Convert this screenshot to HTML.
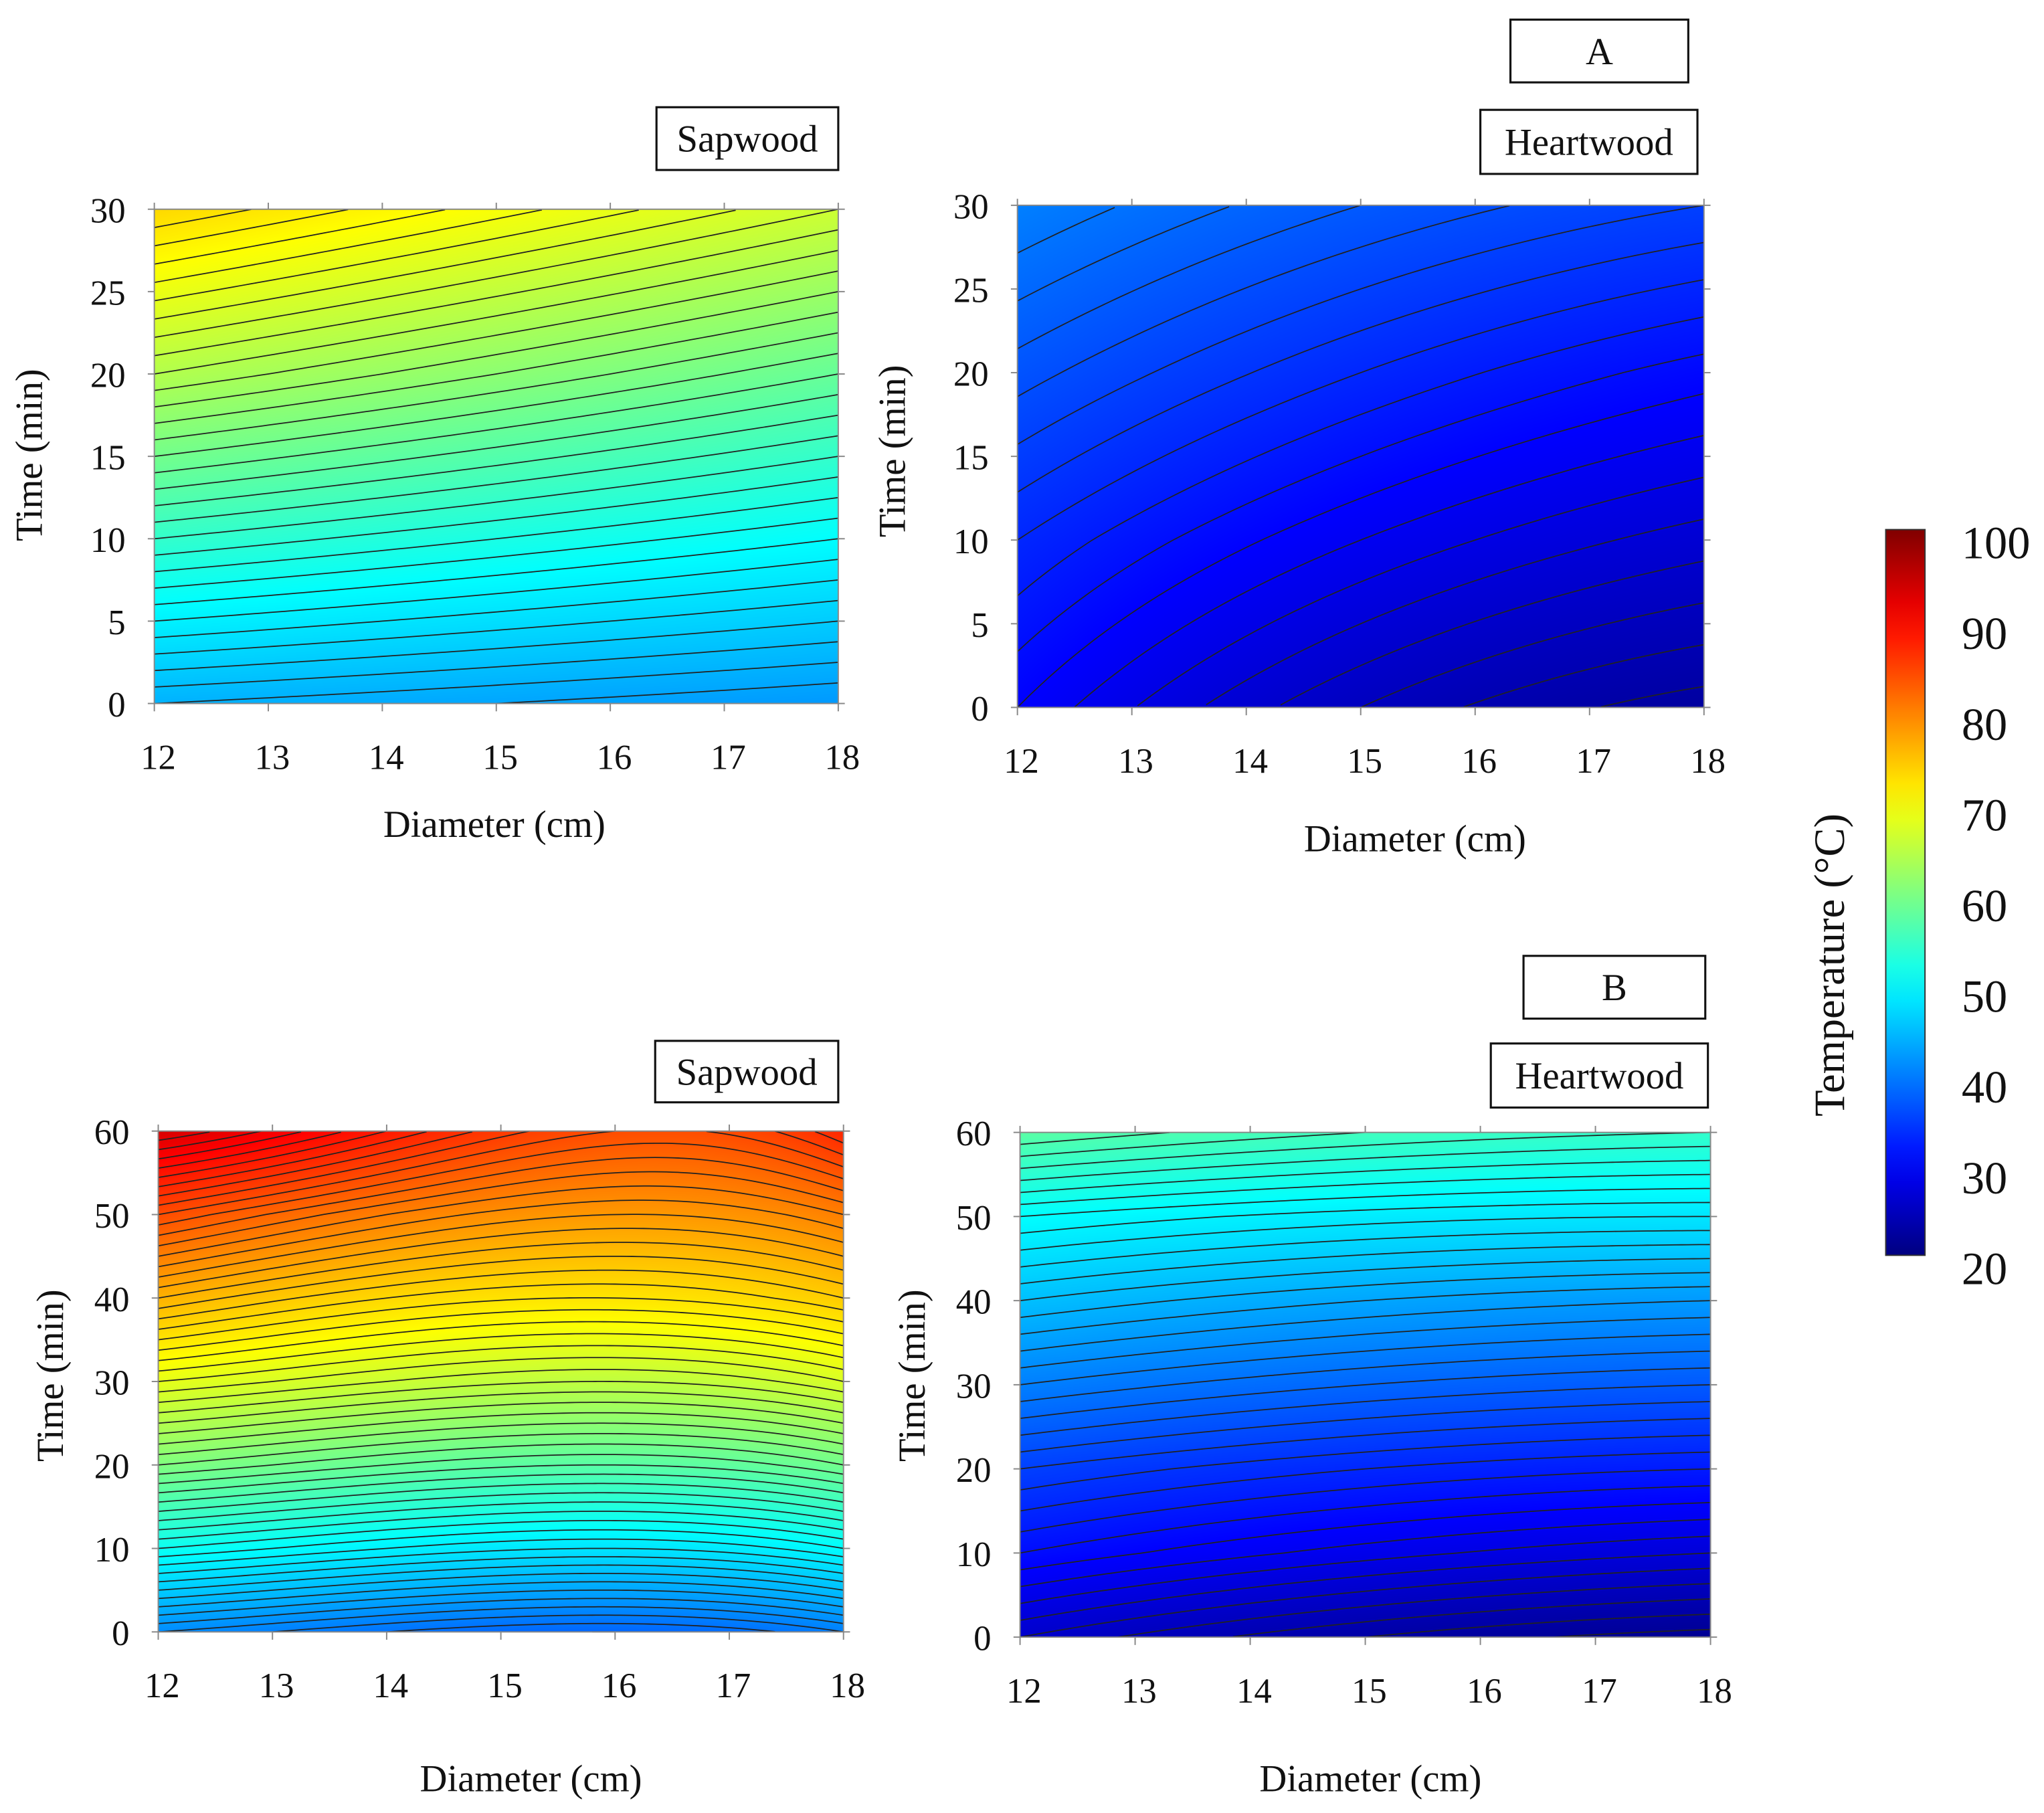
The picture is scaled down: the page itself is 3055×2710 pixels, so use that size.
<!DOCTYPE html>
<html><head><meta charset="utf-8">
<style>
html,body{margin:0;padding:0;background:#fff;}
#wrap{position:relative;width:3055px;height:2710px;overflow:hidden;background:#fff;}
canvas{position:absolute;}
svg{position:absolute;left:0;top:0;}
text{font-family:"Liberation Serif",serif;fill:#111;}
</style></head>
<body>
<div id="wrap">
<svg id="svg" width="3055" height="2710" viewBox="0 0 1563 1386.5"></svg>
</div>
<script>
// ---- data ----
// Panel A sapwood (0-30 min)
const aSapD = [12, 15, 18];
const aSapT = [0, 10, 20, 30];
const aSapV = [[44, 54, 64, 73], [43, 52, 61, 69.5], [42, 50, 58, 66]];
// Panel A heartwood
const aHeartD = [12, 15, 18];
const aHeartT = [0, 10, 20, 30];
const aHeartV = [[30, 33, 36.5, 40], [25, 29, 33, 37], [22.5, 26.5, 30.5, 35]];
// Panel B sapwood (0-60 min)
const bSapD = [12, 14, 16, 18];
const bSapT = [0, 10, 20, 30, 40, 50, 60];
const bSapV = [[41, 51, 60, 68, 76, 84, 93], [39, 49, 58, 66, 73, 80, 88], [38, 48, 57, 65, 72, 78, 84], [40, 50, 59, 67, 74, 80, 87]];
// Panel B heartwood
const bHeartD = [12, 15, 18];
const bHeartT = [0, 10, 20, 30, 40, 50, 60];
const bHeartV = [[26, 31, 35, 40, 45, 50, 57], [23, 28.5, 33, 38, 43, 48.5, 55], [21.5, 27, 32, 37, 42, 48, 54]];
const xTicks = [12, 13, 14, 15, 16, 17, 18];
const yTicksA = [0, 5, 10, 15, 20, 25, 30];
const yTicksB = [0, 10, 20, 30, 40, 50, 60];
const cbTicks = [20, 30, 40, 50, 60, 70, 80, 90, 100];

const S = 3055 / 1563;
const NS = 'http://www.w3.org/2000/svg';
const svg = document.getElementById('svg');
const wrap = document.getElementById('wrap');

function jet(v) {
  let t = Math.max(0, Math.min(1, (v - 20) / 80));
  const f = (x) => Math.max(0, Math.min(1, 1.5 - Math.abs(4 * t - x)));
  return [f(3) * 255, f(2) * 255, f(1) * 255];
}
function interp(D, T, V, d, t) {
  let j = 0; while (j < T.length - 2 && t > T[j + 1]) j++;
  const w = (t - T[j]) / (T[j + 1] - T[j]);
  const col = V.map(r => r[j] * (1 - w) + r[j + 1] * w);
  // Lagrange across diameter
  let s = 0;
  for (let i = 0; i < D.length; i++) {
    let L = 1;
    for (let k = 0; k < D.length; k++) if (k !== i) L *= (d - D[k]) / (D[i] - D[k]);
    s += col[i] * L;
  }
  return s;
}
function mk(tag, attrs, parent) {
  const e = document.createElementNS(NS, tag);
  for (const k in attrs) e.setAttribute(k, attrs[k]);
  (parent || svg).appendChild(e); return e;
}

function panel(name, box, D, T, V, yTicks, tmax, xl, yl) {
  const [x0, y0, x1, y1] = box;
  const xs = d => x0 + (d - 12) / 6 * (x1 - x0);
  const ys = t => y1 - t / tmax * (y1 - y0);
  const c = document.createElement('canvas');
  
  
  const W = Math.round((x1 - x0) * S), H = Math.round((y1 - y0) * S);
  c.width = W; c.height = H;
  c.style.left = (x0 * S) + 'px'; c.style.top = (y0 * S) + 'px';
  const ctx = c.getContext('2d');
  const img = ctx.createImageData(W, H);
  for (let py = 0; py < H; py++) for (let px = 0; px < W; px++) {
    const d = 12 + px / (W - 1) * 6, t = tmax * (1 - py / (H - 1));
    const col = jet(interp(D, T, V, d, t));
    const k = (py * W + px) * 4;
    img.data[k] = col[0]; img.data[k + 1] = col[1]; img.data[k + 2] = col[2]; img.data[k + 3] = 255;
  }
  ctx.putImageData(img, 0, 0);
  wrap.insertBefore(c, svg);
  let vmin = 1e9, vmax = -1e9;
  for (let k = 0; k <= 60; k++) {
    const d = 12 + k / 10;
    vmin = Math.min(vmin, interp(D, T, V, d, 0));
    vmax = Math.max(vmax, interp(D, T, V, d, tmax));
  }
  const g = mk('g', {});
  
  
  for (let L = Math.ceil(vmin); L <= vmax; L += 1) {
    let pts = [], segs = [];
    for (let k = 0; k <= 120; k++) {
      const d = 12 + k / 120 * 6;
      const lo = interp(D, T, V, d, 0), hi = interp(D, T, V, d, tmax);
      if (L < lo || L > hi) { if (pts.length > 1) segs.push(pts); pts = []; continue; }
      let a = 0, b = tmax;
      for (let it = 0; it < 30; it++) { const m = (a + b) / 2; if (interp(D, T, V, d, m) < L) a = m; else b = m; }
      pts.push(xs(d).toFixed(2) + ',' + ys((a + b) / 2).toFixed(2));
    }
    if (pts.length > 1) segs.push(pts);
    segs.forEach(p => {
      const pl = mk('polyline', { points: p.join(' '), fill: 'none', stroke: '#222', 'stroke-width': 0.9 }, g);
      
      
    });
  }
  const fr = mk('rect', { x: x0, y: y0, width: x1 - x0, height: y1 - y0, fill: 'none', stroke: '#888', 'stroke-width': 1 });
  
  
  xTicks.forEach(v => {
    const x = xs(v);
    mk('line', { x1: x, y1: y1, x2: x, y2: y1 + 6, stroke: '#888' });
    mk('line', { x1: x, y1: y0, x2: x, y2: y0 - 5, stroke: '#888' });
    const tx = mk('text', { x: x + 3, y: y1 + 50, 'font-size': 27, 'text-anchor': 'middle' });
    tx.textContent = v;
    
    
  });
  yTicks.forEach(v => {
    const y = ys(v);
    mk('line', { x1: x0 - 5, y1: y, x2: x0, y2: y, stroke: '#888' });
    mk('line', { x1: x1, y1: y, x2: x1 + 5, y2: y, stroke: '#888' });
    const tx = mk('text', { x: x0 - 22, y: y + 10, 'font-size': 27, 'text-anchor': 'end' });
    tx.textContent = v;
    
    
  });
  const xt = mk('text', { x: xl[0], y: xl[1], 'font-size': 29, 'text-anchor': 'middle' });
  xt.textContent = 'Diameter (cm)';
  
  
  const yt = mk('text', { x: 0, y: 0, 'font-size': 29, 'text-anchor': 'middle', transform: `translate(${yl[0]},${yl[1]}) rotate(-90)` });
  yt.textContent = 'Time (min)';
  
  
}

function label(name, txt, x, y, w, h, fs) {
  const g = mk('g', {});
  
  
  mk('rect', { x: x, y: y, width: w, height: h, fill: '#fff', stroke: '#111', 'stroke-width': 1.6 }, g);
  const t = mk('text', { x: x + w / 2, y: y + h / 2 + 10, 'font-size': fs, 'text-anchor': 'middle' }, g);
  t.textContent = txt;
}

panel('a-sapwood', [118, 160, 641, 538], aSapD, aSapT, aSapV, yTicksA, 30, [378, 640], [32, 348]);
panel('a-heartwood', [778, 157, 1303, 541], aHeartD, aHeartT, aHeartV, yTicksA, 30, [1082, 651], [692, 345]);
panel('b-sapwood', [121, 865, 645, 1248], bSapD, bSapT, bSapV, yTicksB, 60, [406, 1370], [48, 1052]);
panel('b-heartwood', [780, 866, 1308, 1252], bHeartD, bHeartT, bHeartV, yTicksB, 60, [1048, 1370], [707, 1052]);

label('label-sapwood-a', 'Sapwood', 502, 82, 139, 48, 29);
label('label-a', 'A', 1155, 15, 136, 48, 29);
label('label-heartwood-a', 'Heartwood', 1132, 84, 166, 49, 29);
label('label-sapwood-b', 'Sapwood', 501, 796, 140, 47, 29);
label('label-b', 'B', 1165, 731, 139, 48, 29);
label('label-heartwood-b', 'Heartwood', 1140, 798, 166, 49, 29);

(function () {
  const x0 = 1442, y0 = 405, x1 = 1472, y1 = 960;
  const defs = mk('defs', {});
  const lg = mk('linearGradient', { id: 'cbg', x1: 0, y1: 1, x2: 0, y2: 0 }, defs);
  for (let i = 0; i <= 20; i++) {
    const c = jet(20 + i * 4);
    mk('stop', { offset: i / 20, 'stop-color': `rgb(${c.map(Math.round).join(',')})` }, lg);
  }
  const r = mk('rect', { x: x0, y: y0, width: x1 - x0, height: y1 - y0, fill: 'url(#cbg)', stroke: '#333', 'stroke-width': 1 });
  
  
  cbTicks.forEach(v => {
    const y = y1 - (v - 20) / 80 * (y1 - y0);
    const t = mk('text', { x: 1500, y: y + 22, 'font-size': 35 });
    t.textContent = v;
    
    
  });
  const tt = mk('text', { x: 0, y: 0, 'font-size': 33, 'text-anchor': 'middle', transform: 'translate(1410,738) rotate(-90)' });
  tt.textContent = 'Temperature (°C)';
  
  
})();
</script>
</body></html>
